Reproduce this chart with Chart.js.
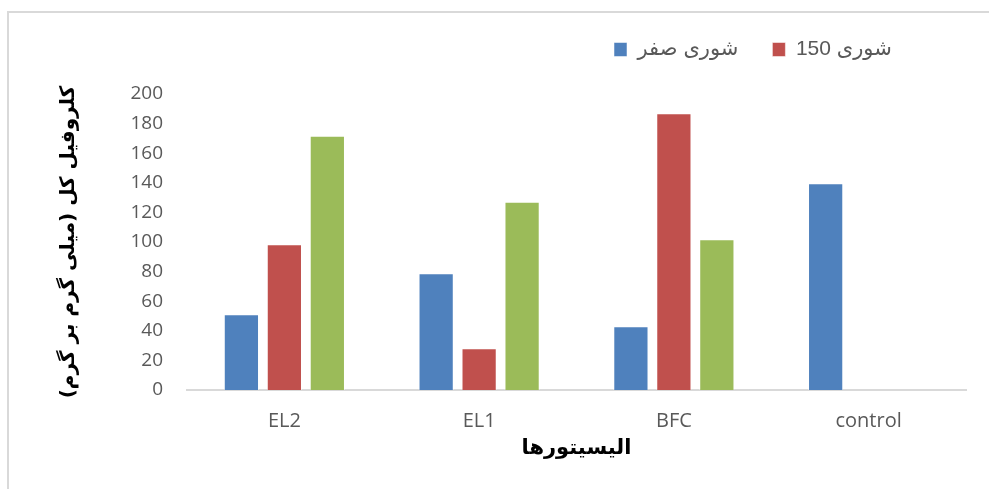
<!DOCTYPE html>
<html>
<head>
<meta charset="utf-8">
<script src="https://cdn.jsdelivr.net/npm/chart.js@4/dist/chart.umd.min.js"></script>
<style>
  html, body { margin: 0; padding: 0; background: #ffffff; }
  body { width: 989px; height: 489px; position: relative; overflow: hidden; }
  #frame {
    position: absolute; left: 7px; top: 11px; width: 990px; height: 490px;
    border-left: 2px solid #d9d9d9; border-top: 2px solid #d9d9d9;
  }
  #wrap { position: absolute; left: 0; top: 0; width: 989px; height: 489px; }
</style>
</head>
<body>
<div id="frame"></div>
<div id="wrap"><canvas id="c" width="989" height="489"></canvas></div>
<script>
// Elicitors on the x axis
const categories = ['EL2', 'EL1', 'BFC', 'control'];

// Total chlorophyll (mg/g) per salinity level
const salinityZero = [51.1, 78.9, 43.0, 139.7];
const salinity150  = [98.4, 28.2, 187.0, null];
const thirdSeries  = [171.8, 127.2, 101.8, null];

const seriesNames = ['شوری صفر', 'شوری 150', ''];
const yTicks = [0, 20, 40, 60, 80, 100, 120, 140, 160, 180, 200];

const xTitle = 'اليسيتورها';
const yTitle = 'کلروفیل کل (میلی گرم بر گرم)';

const tickColor = '#595959';
const latinFont = "'Open Sans', 'DejaVu Sans', sans-serif";
const legendFontFamily = "'Liberation Sans', 'DejaVu Sans', sans-serif";
const titleFontFamily = "'DejaVu Sans', sans-serif";

// Pins the legend row where it sits over the plot
const legendPlacement = {
  id: 'legendPlacement',
  beforeInit(chart) {
    const fit = chart.legend.fit;
    chart.legend.fit = function () {
      fit.call(this);
      this.height = 94;
    };
  },
  afterLayout(chart) {
    const lg = chart.legend;
    lg.left = 614 - 34;
    lg.top = 5;
  }
};

new Chart(document.getElementById('c'), {
  type: 'bar',
  data: {
    labels: categories,
    datasets: [
      { label: seriesNames[0], data: salinityZero, backgroundColor: '#4F81BD', borderColor: 'rgba(255,255,255,0.5)', borderWidth: 1 },
      { label: seriesNames[1], data: salinity150, backgroundColor: '#C0504D', borderColor: 'rgba(255,255,255,0.5)', borderWidth: 1 },
      { label: seriesNames[2], data: thirdSeries, backgroundColor: '#9BBB59', borderColor: 'rgba(255,255,255,0.5)', borderWidth: 1 }
    ]
  },
  options: {
    responsive: false,
    animation: false,
    layout: { padding: { left: 10, right: 23, top: 0, bottom: 19 } },
    datasets: { bar: { categoryPercentage: 0.662, barPercentage: 0.82 } },
    plugins: {
      legend: {
        position: 'top',
        align: 'start',
        labels: {
          boxWidth: 13,
          boxHeight: 14,
          padding: 34,
          color: tickColor,
          font: { family: legendFontFamily, size: 21 },
          filter: item => item.text !== ''
        }
      },
      tooltip: { enabled: false }
    },
    scales: {
      x: {
        grid: { display: false, drawTicks: false },
        border: { display: true, color: '#d9d9d9', width: 2 },
        ticks: { color: tickColor, font: { family: latinFont, size: 20 }, padding: 19 },
        title: {
          display: true, text: xTitle, color: '#000000',
          font: { family: titleFontFamily, size: 21, weight: 'bold' },
          padding: { top: 0, bottom: 9 }
        },
        afterFit: s => { s.height = 80; }
      },
      y: {
        min: 0, max: 200,
        grid: { display: false, drawTicks: false },
        border: { display: false },
        ticks: {
          stepSize: 20, color: tickColor, padding: 24,
          font: { family: latinFont, size: 19 },
          callback: (v) => yTicks.includes(v) ? String(v) : null
        },
        title: {
          display: true, text: yTitle, color: '#000000',
          font: { family: titleFontFamily, size: 20, weight: 'bold' },
          padding: { top: 47, bottom: 0 }
        },
        afterFit: s => { s.width = 177; }
      }
    }
  },
  plugins: [legendPlacement]
});
</script>
</body>
</html>
